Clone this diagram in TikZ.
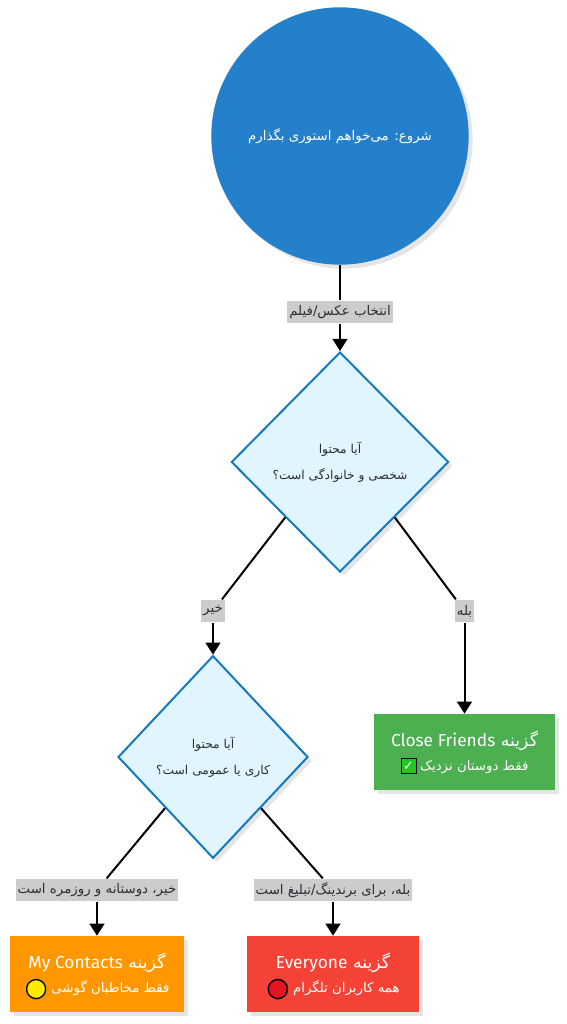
\documentclass[tikz,border=0pt]{standalone}
\usepackage{fontspec}
\setmainfont{Fira Sans}
\newfontfamily\fa[Script=Arabic]{DejaVu Sans}
\newfontfamily\sym{DejaVu Sans}
\TeXXeTstate=1
\usetikzlibrary{shapes.geometric,arrows.meta,shadows}

\definecolor{startblue}{RGB}{37,128,204}
\definecolor{decblue}{RGB}{21,121,190}
\definecolor{decfill}{RGB}{225,245,254}
\definecolor{taggray}{RGB}{204,204,204}
\definecolor{darktext}{RGB}{45,45,55}
\definecolor{cfgreen}{RGB}{76,175,80}
\definecolor{mcorange}{RGB}{255,152,0}
\definecolor{evred}{RGB}{244,67,54}
\definecolor{okgreen}{RGB}{30,200,30}
\definecolor{dotyellow}{RGB}{255,235,0}
\definecolor{dotred}{RGB}{230,20,35}

\newcommand\rtl[1]{{\fa\beginR #1\endR}}
\newcommand\en[1]{\beginL{\normalfont #1}\endL}
\newcommand\okbox{\mbox{\setlength\fboxsep{0pt}\setlength\fboxrule{.8pt}%
  \raisebox{-2.2pt}[0pt][0pt]{\fcolorbox{black}{okgreen}{\makebox[10.5pt][c]{\rule{0pt}{10.5pt}%
  \raisebox{1.6pt}{\textcolor{white}{\sym\fontsize{10}{10}\selectfont ✓}}}}}}}
\newcommand\dotmark[1]{\mbox{\sym\fontsize{20}{10}\selectfont\raisebox{-3.2pt}[0pt][0pt]{%
  \makebox[0pt][l]{\textcolor{#1}{●}}\textcolor{black}{○}}}}

\begin{document}
\begin{tikzpicture}[x=0.75pt,y=-0.75pt,
    >={Triangle[width=11pt,length=9pt]},
    start/.style={circle,fill=startblue,text=white,minimum size=193pt,inner sep=0pt,
      font=\fa\fontsize{10}{13}\selectfont,
      drop shadow={shadow xshift=3pt,shadow yshift=-3pt,fill=black!10,opacity=1}},
    decision/.style={diamond,draw=decblue,line width=1.5pt,fill=decfill,text=darktext,
      inner sep=0pt,align=center,font=\fa\fontsize{9.2}{19.5}\selectfont,
      drop shadow={shadow xshift=3pt,shadow yshift=-3pt,fill=black!10,opacity=1}},
    outcome/.style={rectangle,text=white,minimum height=57pt,inner sep=0pt,align=center,
      font=\fontsize{13}{18}\selectfont,
      drop shadow={shadow xshift=3pt,shadow yshift=-3pt,fill=black!10,opacity=1}},
    edgetag/.style={fill=taggray,text=darktext,inner xsep=1.5pt,inner ysep=0pt,
      minimum height=17pt,font=\fa\fontsize{10}{12}\selectfont}]
  \useasboundingbox (0,0) rectangle (567,1024);
  \draw
    (340,136) node[start] (start){\rtl{شروع: می‌خواهم استوری بگذارم}}
    (340,462) node[decision,minimum width=163pt,minimum height=165pt] (d1)
      {\rtl{آیا محتوا}\\\rtl{شخصی و خانوادگی است؟}}
    (213,757) node[decision,minimum width=142.5pt,minimum height=152pt] (d2)
      {\rtl{آیا محتوا}\\\rtl{کاری یا عمومی است؟}}
    (464.5,752) node[outcome,fill=cfgreen,minimum width=136pt] (cf)
      {\rtl{گزینه \en{Close Friends}}\\{\fontsize{10}{12}\selectfont\okbox\ \rtl{فقط دوستان نزدیک}}}
    (97,974) node[outcome,fill=mcorange,minimum width=130.5pt] (mc)
      {\rtl{گزینه \en{My Contacts}}\\{\fontsize{10}{12}\selectfont\dotmark{dotyellow}\ \rtl{فقط مخاطبان گوشی}}}
    (333,974) node[outcome,fill=evred,minimum width=129pt] (ev)
      {\rtl{گزینه \en{Everyone}}\\{\fontsize{10}{12}\selectfont\dotmark{dotred}\ \rtl{همه کاربران تلگرام}}}
    (340,312) node[edgetag] (pick){\rtl{انتخاب عکس/فیلم}}
    (213,611) node[edgetag] (no1){\rtl{خیر}}
    (464.5,611) node[edgetag] (yes1){\rtl{بله}}
    (97,890) node[edgetag] (no2){\rtl{خیر، دوستانه و روزمره است}}
    (333,890) node[edgetag] (yes2){\rtl{بله، برای برندینگ/تبلیغ است}};
  \begin{scope}[line width=1.5pt,black]
    \draw (start) to (pick);
    \draw[->] (pick) to (d1);
    \draw (d1.south west) to (no1);
    \draw[->] (no1) to (d2);
    \draw (d1.south east) to (yes1);
    \draw[->] (yes1) to (cf);
    \draw (d2.south west) to (no2);
    \draw[->] (no2) to (mc);
    \draw (d2.south east) to (yes2);
    \draw[->] (yes2) to (ev);
  \end{scope}
\end{tikzpicture}
\end{document}
